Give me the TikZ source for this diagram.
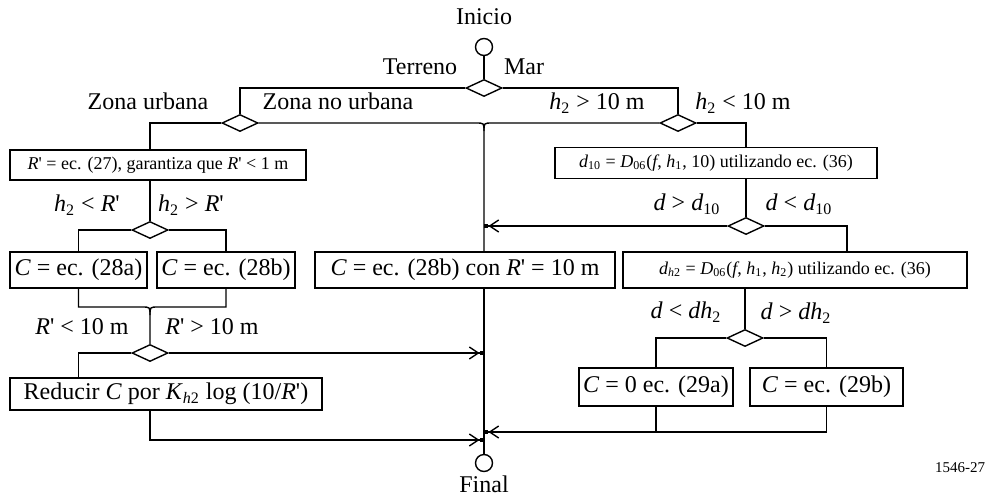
\documentclass[tikz,border=0pt]{standalone}
\usepackage{fontspec}
\setmainfont{Liberation Serif}
\usetikzlibrary{shapes.geometric, arrows.meta, positioning}

\newcommand{\rprime}{\textit{R}\textquotesingle}
\newcommand{\hvar}[1]{\textit{h}\textsubscript{#1}}

\begin{document}
\begin{tikzpicture}[
    x=0.5pt, y=-0.5pt,
    line width=0.7pt,
    every node/.style={font=\fontsize{12}{14}\selectfont, inner sep=1pt},
    proc/.style={draw, line width=0.95pt, fill=white, minimum height=18pt},
    small/.style={font=\fontsize{9}{11}\selectfont},
    decision/.style={diamond, draw, fill=white, minimum width=18pt, minimum height=8.5pt, inner sep=0pt},
    term/.style={circle, draw, minimum size=8.5pt, inner sep=0pt},
    arrow/.style={-{Straight Barb[length=4.5pt,width=6pt,sep=0pt]Square[length=2.2pt,width=2.4pt]}}
]
\useasboundingbox (0,0) rectangle (994,498);

% start and first split
\node[term] (start) at (484,47) {};
\node (ini) at (484,17) {Inicio};
\node[decision] (d0) at (484,88) {};
\node (terr) at (420,67) {Terreno};
\node (mar) at (524,67) {Mar};

\node[decision] (dz) at (240,123) {};
\node[decision] (dh) at (678,123) {};
\node (lzu) at (148,101) {Zona urbana};
\node (lznu) at (338,101) {Zona no urbana};
\node (lhg) at (597,103) {\hvar{2} > 10 m};
\node (lhl) at (743,103) {\hvar{2} < 10 m};

\coordinate (jA) at (484,123);
\coordinate (jB) at (150,307);
\coordinate (jC) at (484,353);
\coordinate (jD) at (484,440);
\coordinate (jE) at (484,226);
\coordinate (jF) at (484,432);

% second level
\node[proc, small, minimum width=148pt, minimum height=15pt] (rbox) at (158,165) {\rprime{} = ec. (27), garantiza que \rprime{} < 1 m};
\node[proc, small, minimum width=161pt, minimum height=15.5pt] (dten) at (716,163) {\textit{d}\textsubscript{10} = \textit{D}\textsubscript{06}(\textit{f}, \hvar{1}, 10) utilizando ec. (36)};

\node[decision] (dr) at (150,230) {};
\node[decision] (dd) at (746,226) {};
\node (lhr1) at (87,205) {\hvar{2} < \rprime};
\node (lhr2) at (191,205) {\hvar{2} > \rprime};
\node (ld1) at (687,204) {\textit{d} > \textit{d}\textsubscript{10}};
\node (ld2) at (799,204) {\textit{d} < \textit{d}\textsubscript{10}};

\node[proc, minimum width=68.5pt] (ca) at (78.5,270) {\textit{C} = ec. (28a)};
\node[proc, minimum width=69pt] (cb) at (226,270) {\textit{C} = ec. (28b)};
\node[proc, minimum width=150pt] (cm) at (465,270) {\textit{C} = ec. (28b) con \rprime{} = 10 m};
\node[proc, small, minimum width=172pt] (dhtwo) at (795,270) {\textit{d}\textsubscript{\textit{h}2} = \textit{D}\textsubscript{06}(\textit{f}, \hvar{1}, \hvar{2}) utilizando ec. (36)};

% third level
\node[decision] (dR) at (150,353) {};
\node[decision] (dD) at (745,338) {};
\node (lr1) at (82,327) {\rprime{} < 10 m};
\node (lr2) at (212,327) {\rprime{} > 10 m};
\node (ldh1) at (686,312) {\textit{d} < \textit{dh}\textsubscript{2}};
\node (ldh2) at (796,313) {\textit{d} > \textit{dh}\textsubscript{2}};

\node[proc, minimum width=156pt, minimum height=16pt] (red) at (166,394) {Reducir \textit{C} por \textit{K}\textsubscript{\textit{h}2} log (10/\rprime)};
\node[proc, minimum width=77pt, minimum height=19pt] (czero) at (656,387) {\textit{C} = 0 ec. (29a)};
\node[proc, minimum width=76.5pt, minimum height=19pt] (cnb) at (826.5,387) {\textit{C} = ec. (29b)};

\node[term] (fin) at (484,463) {};
\node (lfin) at (484,484) {Final};
\node[font=\fontsize{7.5}{9}\selectfont] (fig) at (960,468) {1546-27};

% connectors
\draw (start) -- (d0);
\draw (d0.west) -| (dz.north);
\draw (d0.east) -| (dh.north);
\draw (dz.west) -| (dr |- rbox.north);
\draw (dz.east) -- ([xshift=-4pt]jA) .. controls (jA) .. ([yshift=-4pt]jA) -- (jA |- cm.north);
\draw (dh.west) -- ([xshift=4pt]jA) .. controls (jA) .. ([yshift=-4pt]jA);
\draw (dh.east) -| (dd |- dten.north);

\draw (dr |- rbox.south) -- (dr.north);
\draw (dr.west) -| (ca.north);
\draw (dr.east) -| (cb.north);
\draw (ca.south) |- ([xshift=-4pt]jB) .. controls (jB) .. ([yshift=-4pt]jB) -- (dR.north);
\draw (cb.south) |- ([xshift=4pt]jB) .. controls (jB) .. ([yshift=-4pt]jB);
\draw (dR.west) -| (ca |- red.north);
\draw[arrow] (dR.east) -- (jC);
\draw[arrow] (dR |- red.south) |- (jD);
\draw (jA |- cm.south) -- (fin.north);

\draw (dd |- dten.south) -- (dd.north);
\draw[arrow] (dd.west) -- (jE);
\draw (dd.east) -| ([xshift=26pt]dhtwo.north);
\draw (dD |- dhtwo.south) -- (dD.north);
\draw (dD.west) -| (czero.north);
\draw (dD.east) -| (cnb.north);
\draw (czero.south) -- (czero.south |- jF);
\draw[arrow] (cnb.south) |- (jF);

\end{tikzpicture}
\end{document}
